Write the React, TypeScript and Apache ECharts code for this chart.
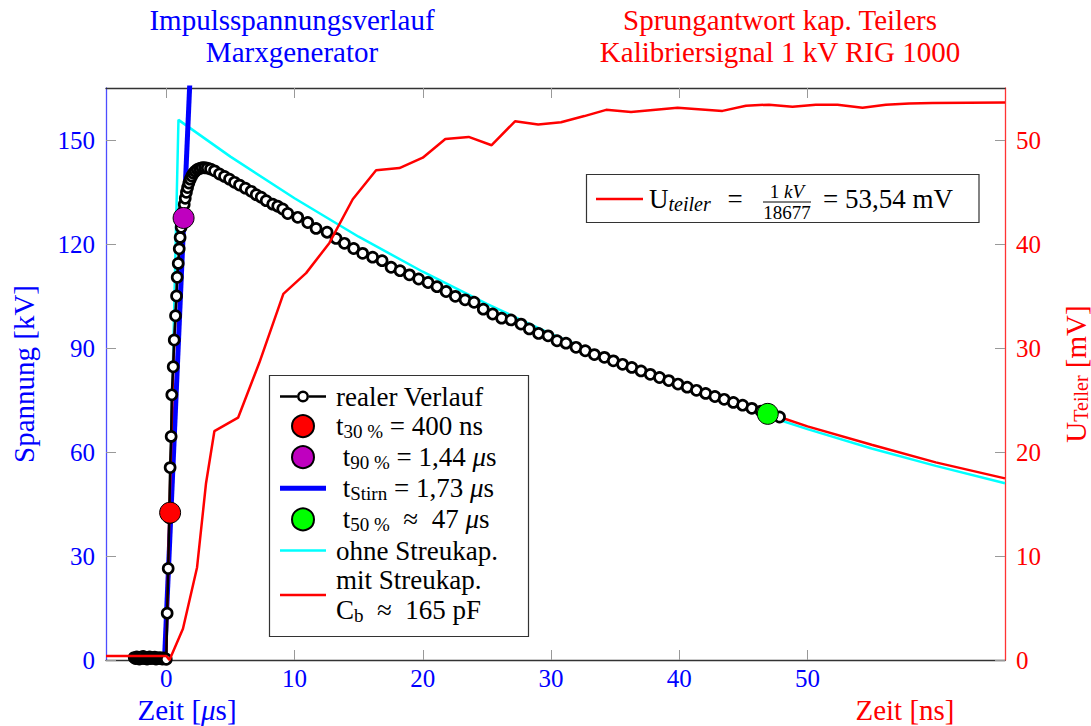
import React, { useEffect, useRef } from 'react';
import * as echarts from 'echarts';

const FONT = 'Liberation Serif';
const BLUE = '#0000ff';
const RED = '#ff0000';

// ---- tick values ----
const xTicks = [0, 10, 20, 30, 40, 50];
const leftTicks = [0, 30, 60, 90, 120, 150];
const rightTicks = [0, 10, 20, 30, 40, 50];

// ---- realer Verlauf (kV over µs) ----
const realX = [
  -2.5, -2.4, -2.3, -2.2, -2.1, -2.0, -1.9, -1.8, -1.7, -1.6, -1.5, -1.4, -1.3, -1.2, -1.1, -1.0, -0.9, -0.8, -0.7, -0.6, -0.5, -0.4, -0.3, -0.2, -0.1, 0.0,
  0.07, 0.15, 0.23, 0.30, 0.38, 0.43, 0.54, 0.62, 0.72, 0.80, 0.85, 0.93, 1.01, 1.08, 1.16,
  1.24, 1.32, 1.40, 1.48, 1.57, 1.66, 1.76, 1.87, 1.99, 2.12, 2.26, 2.42, 2.6, 2.8, 3.0, 3.2, 3.45,
  3.76, 4.15, 4.54, 4.93, 5.32, 5.71, 6.17, 6.62, 7.01, 7.40, 7.79, 8.30, 8.69, 9.08, 9.47,
  10.25, 11.03, 11.68, 12.54, 13.24, 13.89, 14.61, 15.31, 16.09, 16.83, 17.53, 18.23, 18.96, 19.68, 20.41, 21.11, 21.82, 22.54, 23.30, 24.00, 24.72, 25.45, 26.15, 26.88, 27.66, 28.31, 29.03, 29.77, 30.47, 31.17, 31.95, 32.67, 33.38, 34.16, 34.86,
  35.58, 36.30, 37.02, 37.74, 38.46, 39.18, 39.90, 40.62, 41.34, 42.06, 42.78, 43.50, 44.22, 44.94, 45.66, 46.38, 47.10, 47.82,
];
const realY = [
  0.7, 0.4, 0.9, 0.6, 0.3, 0.8, 0.5, 1.0, 0.4, 0.7, 0.3, 0.6, 0.9, 0.4, 0.7, 0.5, 0.8, 0.3, 0.6, 0.4, 0.7, 0.5, 0.3, 0.6, 0.4, 0.2,
  13.5, 26.4, 41.0, 55.5, 64.5, 76.5, 84.6, 92.3, 99.3, 105.0, 110.4, 114.4, 118.6, 121.9, 124.8,
  127.0, 129.3, 131.4, 133.2, 134.9, 136.3, 137.6, 138.7, 139.6, 140.4, 141.0, 141.5, 141.8, 142.0, 142.0, 141.9, 141.6,
  141.1, 140.2, 139.5, 138.7, 137.8, 137.0, 136.1, 135.2, 134.2, 133.5, 132.5, 131.5, 130.9, 130.1, 128.8,
  127.7, 126.2, 124.5, 123.4, 121.6, 120.2, 118.7, 117.3, 116.2, 115.2, 113.3, 112.3, 111.1, 109.9, 108.9, 107.7, 106.3, 104.9, 103.9, 103.2, 101.2, 99.8, 98.6, 98.1, 96.9, 95.5, 94.2, 93.5, 92.1, 91.4, 90.2, 89.2, 88.1, 87.3, 86.3,
  85.3, 84.4, 83.4, 82.4, 81.5, 80.6, 79.6, 78.7, 77.8, 76.9, 76.0, 75.2, 74.3, 73.5, 72.6, 71.8, 71.0, 70.1,
];

// ---- ohne Streukap. ----
const ohneX = [0.0, 0.95, 5, 10, 15, 20, 25, 30, 35, 40, 45, 50, 55, 60, 65.4];
const ohneY = [0, 155.8, 145.2, 133.2, 122.1, 112.0, 102.7, 94.1, 86.3, 79.2, 72.6, 66.6, 61.0, 56.0, 51.0];

// ---- mit Streukap. ----
const mitX = [0.0, 0.23, 0.54, 0.85, 1.16, 1.48, 1.99, 2.8, 3.76, 5.71, 9.47, 15.31, 20.41, 25.45, 30.47, 35.58, 41.34, 47.82, 50, 55, 60, 65.4];
const mitY = [0, 41.0, 84.6, 110.4, 124.8, 133.2, 139.6, 142.0, 141.1, 137.0, 128.8, 117.3, 108.9, 99.8, 92.1, 85.3, 77.8, 70.1, 67.4, 62.1, 57.0, 52.4];

// ---- Stirn line ----
const stirnX = [-0.14, 1.96];
const stirnY = [0, 177];

// ---- characteristic points ----
const t30 = [0.30, 42.5];
const t90 = [1.35, 127.5];
const t50 = [46.9, 71.0];

// ---- Sprungantwort (mV over ns) ----
const nsX = [-4.7, 0, 0.25, 1.3, 2.4, 3.1, 3.75, 5.6, 7.26, 9.13, 10.9, 12.72, 14.54, 16.36, 18.18, 20.0, 21.76, 23.58, 25.37, 27.19, 29.0, 30.78, 32.6, 34.3, 36.24, 39.87, 43.37, 45.2, 47.0, 48.83, 50.65, 52.34, 54.29, 56.11, 57.93, 59.74, 65.4];
const nsY = [0.38, 0.38, 0, 3.0, 8.9, 17.0, 22.0, 23.3, 28.6, 35.2, 37.2, 40.1, 44.3, 47.1, 47.3, 48.3, 50.1, 50.3, 49.5, 51.8, 51.5, 51.7, 52.3, 52.9, 52.7, 53.1, 52.8, 53.3, 53.4, 53.2, 53.4, 53.4, 53.1, 53.4, 53.5, 53.55, 53.6];

const zip = (xs: number[], ys: number[]) => xs.map((x, i) => [x, ys[i]]);

const LEGEND_LABELS: Record<string, string> = {
  'realer Verlauf': '{a0|realer Verlauf}',
  't30 %': '{a0|t}{s|30 %}{a| = 400 ns}',
  't90 %': '{a0| t}{s|90 %}{a| = 1,44 }{i|μ}{a|s}',
  'tStirn': '{a0| t}{s|Stirn}{a| = 1,73 }{i|μ}{a|s}',
  't50 %': '{a0| t}{s|50 %}{a|  ≈  47 }{i|μ}{a|s}',
  'ohne Streukap.': '{a0|ohne Streukap.}',
  'mit Streukap.': '{a0|mit Streukap.}\n{a0|C}{s|b}{a|  ≈  165 pF}',
};

const RING_ICON =
  'path://M0 9.8H17V12.2H0Z M29 9.8H46V12.2H29Z ' +
  'M17 11A6 6 0 1 1 29 11A6 6 0 1 1 17 11Z ' +
  'M19.5 11A3.5 3.5 0 1 0 26.5 11A3.5 3.5 0 1 0 19.5 11Z';
const THICK_ICON = 'path://M0 0H46V5H0Z';
const THIN_ICON = 'path://M0 0H46V2.5H0Z';

const LF = 27;
const SF = 19;
const richBase = {
  a: { fontFamily: FONT, fontSize: LF, lineHeight: 30, color: '#000', verticalAlign: 'middle' },
  a0: { fontFamily: FONT, fontSize: LF, lineHeight: 30, color: '#000', verticalAlign: 'middle', padding: [0, 0, 0, 5] },
  s: { fontFamily: FONT, fontSize: SF, lineHeight: 14, color: '#000', verticalAlign: 'bottom' },
  i: { fontFamily: FONT, fontSize: LF, lineHeight: 30, color: '#000', fontStyle: 'italic', verticalAlign: 'middle' },
};

function txt(x: number, y: number, text: string, color: string, size: number, extra: any = {}) {
  return {
    type: 'text',
    x,
    y,
    z: 10,
    ...extra,
    style: {
      text,
      fill: color,
      fontSize: size,
      fontFamily: FONT,
      align: extra.align || 'center',
      verticalAlign: 'middle',
      textAlign: extra.align || 'center',
      textVerticalAlign: 'middle',
      ...(extra.style || {}),
    },
  };
}

function axisCommon(ticks: number[], lineColor: string, labelColor: string, margin: number, showLabel = true) {
  return {
    axisLine: { show: true, onZero: false, lineStyle: { color: lineColor, width: 1.3 } },
    axisTick: { show: true, inside: true, length: 10, lineStyle: { color: '#999', width: 1 }, customValues: ticks },
    axisLabel: { show: showLabel, customValues: ticks, color: labelColor, fontSize: 25, fontFamily: FONT, margin },
    splitLine: { show: false },
    minorTick: { show: false },
  };
}

export default function App() {
  const ref = useRef<HTMLDivElement>(null);
  useEffect(() => {
    const chart = echarts.init(ref.current!, null, { renderer: 'svg' });
    const option: any = {
      animation: false,
      backgroundColor: '#fff',
      textStyle: { fontFamily: FONT },
      grid: { left: 106, top: 88, width: 899, height: 572, containLabel: false, outerBoundsMode: 'none' },
      xAxis: [
        { type: 'value', position: 'bottom', min: -4.7, max: 65.4, ...axisCommon(xTicks, '#333', BLUE, 6) },
        { type: 'value', position: 'top', min: -4.7, max: 65.4, ...axisCommon(xTicks, '#333', BLUE, 6, false) },
      ],
      yAxis: [
        { type: 'value', position: 'left', min: 0, max: 165, ...axisCommon(leftTicks, '#4d4dff', BLUE, 11) },
        { type: 'value', position: 'right', min: 0, max: 55, ...axisCommon(rightTicks, '#ff3333', RED, 11) },
      ],
      legend: {
        orient: 'vertical',
        left: 280,
        top: 383,
        padding: 0,
        itemGap: 2.6,
        itemWidth: 46,
        itemHeight: 22,
        selectedMode: false,
        z: 9,
        data: [
          { name: 'realer Verlauf', icon: RING_ICON, itemStyle: { color: '#000', borderWidth: 0 } },
          { name: 't30 %' },
          { name: 't90 %' },
          { name: 'tStirn', icon: THICK_ICON, itemStyle: { color: BLUE, borderWidth: 0 } },
          { name: 't50 %' },
          { name: 'ohne Streukap.', icon: THIN_ICON, itemStyle: { color: '#00ffff', borderWidth: 0 } },
          { name: 'mit Streukap.', icon: THIN_ICON, itemStyle: { color: RED, borderWidth: 0 } },
        ],
        textStyle: { fontFamily: FONT, fontSize: LF, color: '#000', rich: richBase },
        formatter: (name: string) => LEGEND_LABELS[name] || name,
      },
      series: [
        {
          name: 'ohne Streukap.', type: 'line', z: 2, data: zip(ohneX, ohneY), symbol: 'none',
          lineStyle: { color: '#00ffff', width: 2.5 }, itemStyle: { color: '#00ffff' },
        },
        {
          name: 'tStirn', type: 'line', z: 3, data: zip(stirnX, stirnY), symbol: 'none',
          lineStyle: { color: BLUE, width: 5 }, itemStyle: { color: BLUE },
        },
        {
          name: 'mit Streukap.', type: 'line', z: 4, data: zip(mitX, mitY), symbol: 'none',
          lineStyle: { color: RED, width: 2.5 }, itemStyle: { color: RED },
        },
        {
          name: 'realer Verlauf', type: 'line', z: 5, data: zip(realX, realY), symbol: 'circle', symbolSize: 10,
          showSymbol: true, showAllSymbol: true,
          lineStyle: { color: '#000', width: 2.5 },
          itemStyle: { color: '#fff', borderColor: '#000', borderWidth: 2.7 },
        },
        {
          name: 't30 %', type: 'scatter', z: 6, data: [t30], symbol: 'circle', symbolSize: 21,
          itemStyle: { color: RED, borderColor: '#000', borderWidth: 1, opacity: 1 },
        },
        {
          name: 't90 %', type: 'scatter', z: 6, data: [t90], symbol: 'circle', symbolSize: 21,
          itemStyle: { color: '#bf00bf', borderColor: '#000', borderWidth: 1, opacity: 1 },
        },
        {
          name: 't50 %', type: 'scatter', z: 6, data: [t50], symbol: 'circle', symbolSize: 21,
          itemStyle: { color: '#00ff00', borderColor: '#000', borderWidth: 1, opacity: 1 },
        },
        {
          name: 'Uteiler', type: 'line', z: 7, yAxisIndex: 1, data: zip(nsX, nsY), symbol: 'none',
          lineStyle: { color: RED, width: 2.5 }, itemStyle: { color: RED },
        },
      ],
      graphic: [
        // titles
        txt(292, 20, 'Impulsspannungsverlauf', BLUE, 29),
        txt(292, 52, 'Marxgenerator', BLUE, 29),
        txt(780, 20, 'Sprungantwort kap. Teilers', RED, 29),
        txt(780, 52, 'Kalibriersignal 1 kV RIG 1000', RED, 29),
        // axis names
        txt(187, 710, '{a|Zeit [}{i|μ}{a|s]}', BLUE, 29, {
          style: {
            rich: {
              a: { fontFamily: FONT, fontSize: 29, fill: BLUE, color: BLUE },
              i: { fontFamily: FONT, fontSize: 29, fill: BLUE, color: BLUE, fontStyle: 'italic' },
            },
          },
        }),
        txt(905, 710, 'Zeit [ns]', RED, 29),
        txt(24, 374, 'Spannung [kV]', BLUE, 29, { rotation: Math.PI / 2 }),
        txt(1076, 374, '{a|U}{s|Teiler}{a| [mV]}', RED, 29, {
          rotation: Math.PI / 2,
          style: {
            rich: {
              a: { fontFamily: FONT, fontSize: 29, fill: RED, color: RED, lineHeight: 30, verticalAlign: 'middle' },
              s: { fontFamily: FONT, fontSize: 20, fill: RED, color: RED, lineHeight: 15, verticalAlign: 'bottom' },
            },
          },
        }),
        // legend frame
        {
          type: 'rect', z: 8,
          shape: { x: 269.5, y: 375.5, width: 259, height: 261 },
          style: { fill: '#fff', stroke: '#333', lineWidth: 1.2 },
        },
        // second legend (Sprungantwort)
        {
          type: 'rect', z: 8,
          shape: { x: 586.5, y: 174.5, width: 392.5, height: 48 },
          style: { fill: '#fff', stroke: '#333', lineWidth: 1.2 },
        },
        {
          type: 'line', z: 9,
          shape: { x1: 596, y1: 199, x2: 643, y2: 199 },
          style: { stroke: RED, lineWidth: 2.5 },
        },
        txt(649, 199, '{a|U}{s|teiler}', '#000', 27, {
          align: 'left',
          style: {
            rich: {
              a: { fontFamily: FONT, fontSize: 27, fill: '#000', color: '#000', lineHeight: 30, verticalAlign: 'middle' },
              s: { fontFamily: FONT, fontSize: 20, fill: '#000', color: '#000', lineHeight: 14, verticalAlign: 'bottom', fontStyle: 'italic' },
            },
          },
        }),
        txt(735, 199, '=', '#000', 27),
        txt(787, 191, '{a|1 }{i|kV}', '#000', 19, {
          style: {
            rich: {
              a: { fontFamily: FONT, fontSize: 19, fill: '#000', color: '#000' },
              i: { fontFamily: FONT, fontSize: 19, fill: '#000', color: '#000', fontStyle: 'italic' },
            },
          },
        }),
        {
          type: 'line', z: 9,
          shape: { x1: 763, y1: 202, x2: 811, y2: 202 },
          style: { stroke: '#000', lineWidth: 1 },
        },
        txt(787, 212, '18677', '#000', 19),
        txt(823, 199, '= 53,54 mV', '#000', 27, { align: 'left' }),
      ],
    };
    chart.setOption(option);
    return () => chart.dispose();
  }, []);
  return <div ref={ref} style={{ position: 'absolute', left: 0, top: 0, width: 1091, height: 726 }} />;
}
